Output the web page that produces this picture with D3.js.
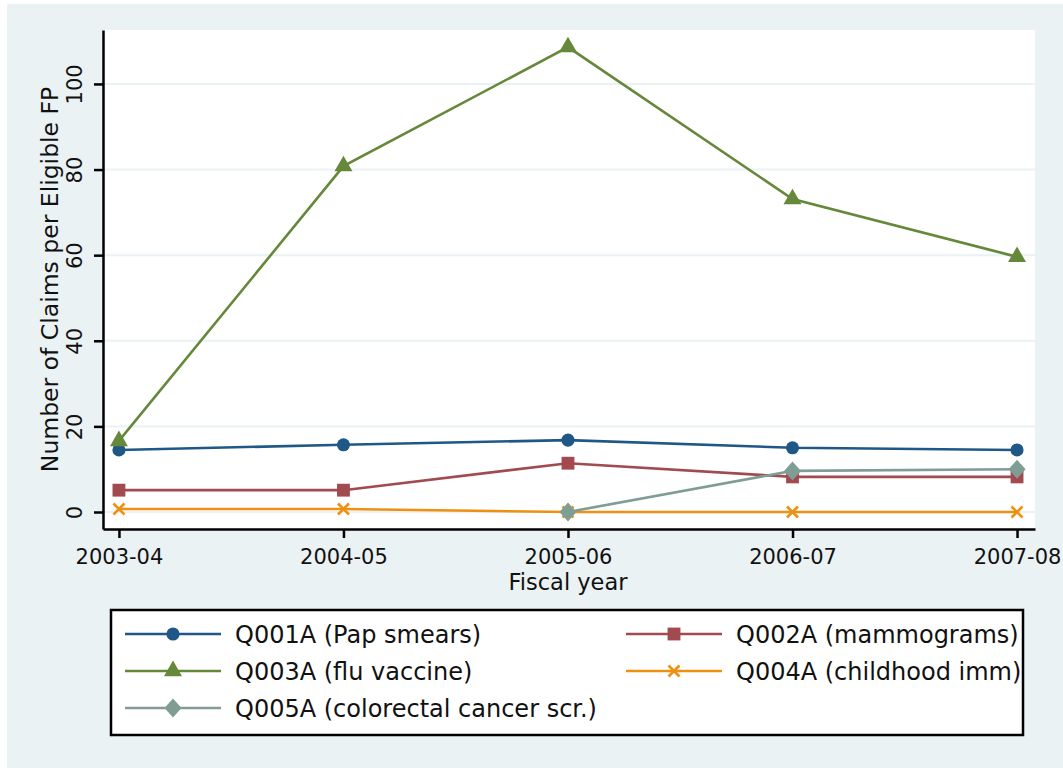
<!DOCTYPE html>
<html>
<head>
<meta charset="utf-8">
<script src="https://cdn.jsdelivr.net/npm/d3@7"></script>
<style>
  body { margin: 0; background: #fff; }
  svg text { font-family: "DejaVu Sans", sans-serif; fill: #111; }
</style>
</head>
<body>
<svg id="chart" width="1063" height="768"></svg>
<script>
// data
const years = ["2003-04", "2004-05", "2005-06", "2006-07", "2007-08"];
const q001 = [14.5, 15.7, 16.8, 15.0, 14.5];
const q002 = [5.1, 5.1, 11.4, 8.2, 8.2];
const q003 = [16.6, 80.8, 108.6, 73.1, 59.6];
const q004 = [0.7, 0.7, 0, 0, 0];
const q005 = [null, null, 0, 9.6, 10.0];
const yTicks = [0, 20, 40, 60, 80, 100];

const series = [
    {name: "Q001A (Pap smears)", vals: q001, color: "#1f5886", sym: "circle"},
    {name: "Q002A (mammograms)", vals: q002, color: "#a14a50", sym: "square"},
    {name: "Q003A (flu vaccine)", vals: q003, color: "#66883a", sym: "triangle"},
    {name: "Q004A (childhood imm)", vals: q004, color: "#ee9012", sym: "x"},
    {name: "Q005A (colorectal cancer scr.)", vals: q005, color: "#7f9d94", sym: "diamond"}
];

const svg = d3.select("#chart");
const bg = "#eaf2f3";

svg.append("rect").attr("x", 7).attr("y", 4).attr("width", 1056).attr("height", 764).attr("fill", bg);

const pLeft = 103, pRight = 1035, pTop = 30, pBottom = 529;
svg.append("rect").attr("x", pLeft).attr("y", pTop).attr("width", pRight - pLeft).attr("height", pBottom - pTop).attr("fill", "#fff");

const gx = d3.scaleLinear().domain([-0.071, 4.08]).range([pLeft, pRight]);
const gy = d3.scaleLinear().domain([-3.97, 112.6]).range([pBottom, pTop]);

// gridlines
svg.append("g").selectAll("line").data(yTicks).enter().append("line")
    .attr("x1", pLeft).attr("x2", pRight)
    .attr("y1", d => gy(d)).attr("y2", d => gy(d))
    .attr("stroke", bg).attr("stroke-width", 2);

// y axis
const yAxis = svg.append("g").attr("transform", "translate(" + pLeft + ",0)")
    .call(d3.axisLeft(gy).tickValues(yTicks).tickSize(9).tickSizeOuter(0));
yAxis.select(".domain").attr("stroke", "#000").attr("stroke-width", 2.5);
yAxis.selectAll(".tick line").attr("stroke", "#000").attr("stroke-width", 2.5);
yAxis.selectAll(".tick text")
    .attr("x", null).attr("dy", null)
    .attr("transform", "translate(-21,0) rotate(-90)")
    .attr("text-anchor", "middle")
    .style("font-size", "21px").style("font-family", "DejaVu Sans");

// x axis
const xAxis = svg.append("g").attr("transform", "translate(0," + pBottom + ")")
    .call(d3.axisBottom(gx).tickValues([0, 1, 2, 3, 4]).tickFormat(i => years[i]).tickSize(9).tickSizeOuter(0));
xAxis.select(".domain").attr("stroke", "#000").attr("stroke-width", 2.5);
xAxis.selectAll(".tick line").attr("stroke", "#000").attr("stroke-width", 2.5);
xAxis.selectAll(".tick text")
    .attr("y", 35).attr("dy", null)
    .style("font-size", "21px").style("font-family", "DejaVu Sans");

// axis titles
svg.append("text")
    .attr("transform", "translate(58," + ((pTop + pBottom) / 2) + ") rotate(-90)")
    .attr("text-anchor", "middle")
    .style("font-size", "23.5px")
    .text("Number of Claims per Eligible FP");
svg.append("text")
    .attr("x", gx(2)).attr("y", 590)
    .attr("text-anchor", "middle")
    .style("font-size", "22.5px")
    .text("Fiscal year");

function marker(g, sym, color) {
    if (sym === "x") {
        const s = 5.5;
        g.append("path").attr("d", "M" + -s + "," + -s + "L" + s + "," + s + "M" + -s + "," + s + "L" + s + "," + -s)
            .attr("stroke", color).attr("stroke-width", 2.6).attr("fill", "none");
        return;
    }
    if (sym === "diamond") {
        g.append("path").attr("d", "M0,-9.5L8.5,0L0,9.5L-8.5,0Z").attr("fill", color);
        return;
    }
    const types = {circle: d3.symbolCircle, square: d3.symbolSquare, triangle: d3.symbolTriangle};
    const sizes = {circle: 135, square: 165, triangle: 140};
    g.append("path").attr("d", d3.symbol().type(types[sym]).size(sizes[sym])())
        .attr("fill", color);
}

const linea = d3.line()
    .defined(d => d[1] !== null)
    .x(d => gx(d[0]))
    .y(d => gy(d[1]));

series.forEach(function(s) {
    const pts = s.vals.map((v, i) => [i, v]);
    const g = svg.append("g");
    g.append("path").datum(pts).attr("d", linea)
        .attr("fill", "none").attr("stroke", s.color).attr("stroke-width", 2.6);
    pts.filter(d => d[1] !== null).forEach(function(d) {
        const m = g.append("g").attr("transform", "translate(" + gx(d[0]) + "," + gy(d[1]) + ")");
        marker(m, s.sym, s.color);
    });
});

// legend
svg.append("rect").attr("x", 111).attr("y", 610).attr("width", 912).attr("height", 125)
    .attr("fill", "#fff").attr("stroke", "#000").attr("stroke-width", 2.5);

const legendPos = [[0, 0], [1, 0], [0, 1], [1, 1], [0, 2]];
series.forEach(function(s, i) {
    const col = legendPos[i][0], row = legendPos[i][1];
    const x0 = col === 0 ? 125 : 626;
    const cy = 634 + row * 37;
    const g = svg.append("g");
    g.append("line").attr("x1", x0).attr("x2", x0 + 96).attr("y1", cy).attr("y2", cy)
        .attr("stroke", s.color).attr("stroke-width", 2.6);
    const m = g.append("g").attr("transform", "translate(" + (x0 + 48) + "," + cy + ")");
    marker(m, s.sym, s.color);
    g.append("text").attr("x", x0 + 110).attr("y", cy + 8.5)
        .style("font-size", "24px")
        .text(s.name);
});
</script>
</body>
</html>
